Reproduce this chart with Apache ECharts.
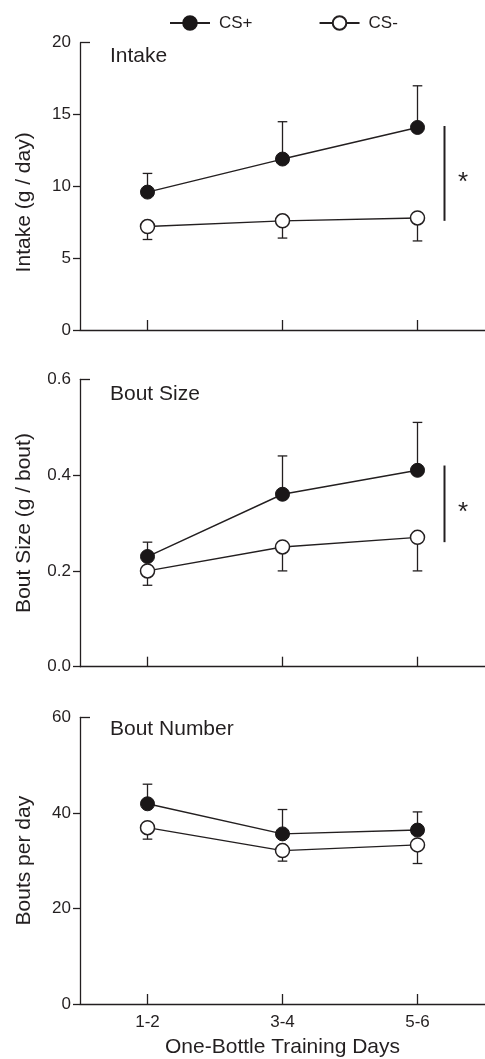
<!DOCTYPE html>
<html><head><meta charset="utf-8">
<script src="https://cdn.jsdelivr.net/npm/echarts@6/dist/echarts.min.js"></script>
<style>html,body{margin:0;padding:0;background:#fff}#c{width:485px;height:1059px}</style>
</head><body><div id="c"></div>
<script>
// ---- data ----
const categories = ['1-2', '3-4', '5-6'];
const seriesNames = ['CS+', 'CS-'];

const intakeCSplus = [9.6, 11.9, 14.1];
const intakeCSplusSem = [1.3, 2.6, 2.9];
const intakeCSminus = [7.2, 7.6, 7.8];
const intakeCSminusSem = [0.9, 1.2, 1.6];

const boutSizeCSplus = [0.23, 0.36, 0.41];
const boutSizeCSplusSem = [0.03, 0.08, 0.10];
const boutSizeCSminus = [0.20, 0.25, 0.27];
const boutSizeCSminusSem = [0.03, 0.05, 0.07];

const boutNumCSplus = [41.9, 35.6, 36.4];
const boutNumCSplusSem = [4.1, 5.1, 3.8];
const boutNumCSminus = [36.9, 32.1, 33.3];
const boutNumCSminusSem = [2.4, 2.2, 3.9];

const intakeSig = [7.6, 14.2];
const boutSizeSig = [0.26, 0.42];
const sigX = 2.2;

const panelTitles = ['Intake', 'Bout Size', 'Bout Number'];
const yNames = ['Intake (g / day)', 'Bout Size (g / bout)', 'Bouts per day'];
const yMax = [20, 0.6, 60];
const yInterval = [5, 0.2, 20];
const xName = 'One-Bottle Training Days';

// ---- build ----
const INK = '#231f20';
const FONT = '"Liberation Sans", Arial, Helvetica, sans-serif';
const gridTops = [42.7, 379.3, 717.3];
const gridHeights = [287.3, 287.4, 286.7];

const panels = [
  {plus: intakeCSplus, plusSem: intakeCSplusSem, minus: intakeCSminus, minusSem: intakeCSminusSem, sig: intakeSig},
  {plus: boutSizeCSplus, plusSem: boutSizeCSplusSem, minus: boutSizeCSminus, minusSem: boutSizeCSminusSem, sig: boutSizeSig},
  {plus: boutNumCSplus, plusSem: boutNumCSplusSem, minus: boutNumCSminus, minusSem: boutNumCSminusSem, sig: null}
];

function errRender(params, api) {
  const x = api.value(0), y = api.value(1), e = api.value(2);
  const p0 = api.coord([x, y]);
  const p1 = api.coord([x, e]);
  const hw = 4.8;
  const st = {stroke: INK, lineWidth: 1.3};
  return {type: 'group', children: [
    {type: 'line', shape: {x1: p0[0], y1: p0[1], x2: p1[0], y2: p1[1]}, style: st},
    {type: 'line', shape: {x1: p1[0] - hw, y1: p1[1], x2: p1[0] + hw, y2: p1[1]}, style: st}
  ]};
}
function sigRender(params, api) {
  const x = api.value(0), lo = api.value(1), hi = api.value(2);
  const a = api.coord([x, lo]);
  const b = api.coord([x, hi]);
  return {type: 'group', children: [
    {type: 'line', shape: {x1: a[0], y1: a[1], x2: b[0], y2: b[1]}, style: {stroke: INK, lineWidth: 2}},
    {type: 'text', x: a[0] + 18.5, y: (a[1] + b[1]) / 2 + 9,
     style: {text: '*', fill: INK, font: '26px ' + FONT, align: 'center', verticalAlign: 'middle'}}
  ]};
}

const grids = [], xAxes = [], yAxes = [], series = [], titles = [];
const titleTops = [46, 384, 718.5];
panels.forEach((p, i) => {
  grids.push({left: 80, width: 409.5, top: gridTops[i], height: gridHeights[i]});
  titles.push({text: panelTitles[i], left: 110, top: titleTops[i], padding: 0,
    textStyle: {fontSize: 21, fontWeight: 'normal', color: INK, fontFamily: FONT}});
  const last = i === 2;
  xAxes.push({
    gridIndex: i, type: 'value', min: -0.5, max: 2.5,
    axisLine: {show: true, onZero: false, lineStyle: {color: INK, width: 1.3}},
    axisTick: {show: true, inside: true, length: 10, customValues: [0, 1, 2], lineStyle: {color: INK, width: 1.3}},
    axisLabel: {show: last, customValues: [0, 1, 2], formatter: v => categories[Math.round(v)] || '',
      fontSize: 17, color: INK, margin: 10, fontFamily: FONT},
    splitLine: {show: false},
    name: last ? xName : '', nameLocation: 'middle', nameGap: 33,
    nameTextStyle: {fontSize: 21, color: INK, fontFamily: FONT}
  });
  const ticks = [];
  for (let v = 0; v < yMax[i] - 1e-9; v += yInterval[i]) ticks.push(+v.toFixed(3));
  yAxes.push({
    gridIndex: i, type: 'value', position: 'left', min: 0, max: yMax[i], interval: yInterval[i],
    axisLine: {show: true, onZero: false, lineStyle: {color: INK, width: 1.3}},
    axisTick: {show: true, inside: false, length: 7, customValues: ticks, lineStyle: {color: INK, width: 1.3}},
    axisLabel: {fontSize: 17, color: INK, margin: 9, fontFamily: FONT,
      formatter: v => (i === 1 ? (+v).toFixed(1) : String(Math.round(v)))},
    splitLine: {show: false},
    name: yNames[i], nameLocation: 'middle', nameGap: 45,
    nameTextStyle: {fontSize: 21, color: INK, fontFamily: FONT, padding: i === 0 ? [0, 32, 0, 0] : 0}
  });
  yAxes.push({
    gridIndex: i, type: 'value', position: 'left', min: 0, max: yMax[i], interval: yInterval[i],
    axisLine: {show: false, onZero: false},
    axisTick: {show: true, inside: true, length: 10, customValues: [yMax[i]], lineStyle: {color: INK, width: 1.3}},
    axisLabel: {show: false}, splitLine: {show: false}
  });
  const yIdx = i * 2;
  series.push({
    type: 'custom', name: 'errPlus' + i, xAxisIndex: i, yAxisIndex: yIdx, z: 1, silent: true,
    renderItem: errRender, data: p.plus.map((m, k) => [k, m, m + p.plusSem[k]])
  });
  series.push({
    type: 'custom', name: 'errMinus' + i, xAxisIndex: i, yAxisIndex: yIdx, z: 1, silent: true,
    renderItem: errRender, data: p.minus.map((m, k) => [k, m, m - p.minusSem[k]])
  });
  series.push({
    type: 'line', name: seriesNames[0], xAxisIndex: i, yAxisIndex: yIdx, z: 3,
    data: p.plus.map((m, k) => [k, m]), symbol: 'circle', symbolSize: 14,
    itemStyle: {color: '#1a1718', borderColor: '#1a1718', borderWidth: 1},
    lineStyle: {color: INK, width: 1.4}, emphasis: {disabled: true}
  });
  series.push({
    type: 'line', name: seriesNames[1], xAxisIndex: i, yAxisIndex: yIdx, z: 3,
    data: p.minus.map((m, k) => [k, m]), symbol: 'circle', symbolSize: 14,
    itemStyle: {color: '#ffffff', borderColor: INK, borderWidth: 1.5},
    lineStyle: {color: INK, width: 1.4}, emphasis: {disabled: true}
  });
  if (p.sig) {
    series.push({
      type: 'custom', name: 'sig' + i, xAxisIndex: i, yAxisIndex: yIdx, z: 2, silent: true,
      renderItem: sigRender, data: [[sigX, p.sig[0], p.sig[1]]]
    });
  }
});

const chart = echarts.init(document.getElementById('c'), null, {renderer: 'canvas'});
chart.setOption({
  animation: false,
  backgroundColor: '#ffffff',
  textStyle: {fontFamily: FONT, color: INK},
  title: titles,
  legend: {
    data: seriesNames, left: 169, top: 14.5, padding: 0, itemWidth: 40, itemHeight: 17, itemGap: 66,
    selectedMode: false,
    textStyle: {fontSize: 17, color: INK, fontFamily: FONT, padding: [0, 0, 0, 4]}
  },
  grid: grids, xAxis: xAxes, yAxis: yAxes, series: series
});
</script></body></html>
